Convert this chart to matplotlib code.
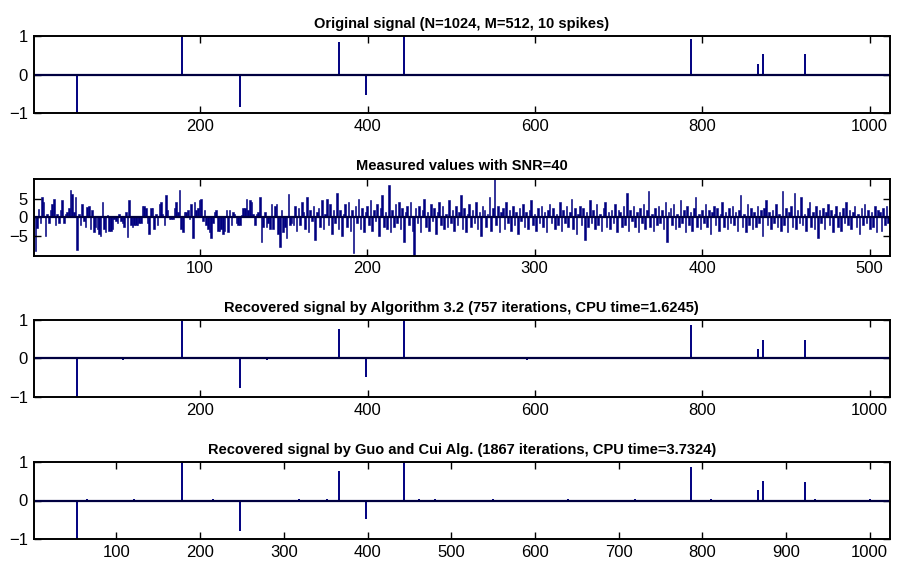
import numpy as np
import matplotlib.pyplot as plt

plt.rcParams['font.family'] = ['Liberation Sans', 'DejaVu Sans']

N = 1024
M = 512

# spikes of the original signal (index, amplitude)
spike_idx = [53, 178, 247, 366, 398, 444, 786, 866, 872, 923]
spike_orig = [-1.0, 1.0, -0.84, 0.85, -0.52, 1.0, 0.93, 0.28, 0.53, 0.53]
spike_alg32 = [-1.0, 0.98, -0.76, 0.76, -0.47, 1.0, 0.86, 0.25, 0.49, 0.48]
spike_guo = [-1.0, 1.0, -0.78, 0.77, -0.48, 1.0, 0.87, 0.26, 0.50, 0.49]

# small residuals in the recovered signals
noise_idx = [10, 37, 65, 90, 108, 121, 140, 160, 200, 215, 232, 260, 280, 300,
             318, 333, 352, 380, 420, 462, 480, 505, 530, 550, 575, 590, 610,
             640, 660, 690, 705, 720, 745, 760, 810, 830, 900, 935, 950, 980,
             1000, 1010]
noise_val = [0.02, -0.02, 0.03, 0.02, -0.03, 0.03, 0.02, -0.02, 0.02, 0.03,
             -0.02, 0.02, -0.03, 0.02, 0.03, -0.02, 0.04, 0.02, -0.02, 0.03,
             0.03, 0.02, -0.02, 0.03, 0.02, -0.03, 0.02, 0.03, 0.02, -0.02,
             0.02, 0.03, -0.02, 0.02, 0.03, -0.02, 0.02, 0.03, 0.02, -0.02,
             0.03, 0.02]

measured = [
    -9.7, -9.0, -2.9, 2.1, -1.5, 5.3, 4.1, -4.9, 1.0, -1.5,
    2.0, 3.5, 5.0, -2.0, 1.0, -1.5, 2.0, 4.7, -1.5, 1.0,
    1.5, 2.5, 7.4, 6.3, 1.5, 5.5, -8.6, 1.0, -2.0, 3.5,
    -1.0, -2.5, 2.8, 3.0, -3.0, 2.0, -4.0, -2.5, -3.0, -4.5,
    -5.0, 4.0, -3.0, -4.0, 0.5, -3.5, -3.5, -3.0, -0.5, -1.0,
    -1.5, 1.0, -1.0, -1.5, -2.5, 1.5, -5.3, 4.5, -2.0, -2.5,
    -2.0, -2.0, -2.0, -1.5, -1.5, 3.0, 3.0, 2.5, -1.5, -4.5,
    2.5, 2.5, -3.0, 1.0, -2.0, 3.5, 4.0, 1.0, -2.0, 6.0,
    2.0, -0.5, -0.5, -0.5, 2.5, 4.0, 1.5, 7.3, -3.0, -4.0,
    1.5, 1.5, 2.0, -0.5, 3.5, -5.5, 4.0, 2.0, 2.5, 4.5,
    4.8, -1.0, 2.0, -2.0, -3.0, -4.0, -5.5, -1.5, 1.5, 2.0,
    -3.5, -3.5, -3.0, -4.5, -3.5, 2.0, -4.0, 2.0, -2.0, 1.5,
    1.0, -1.5, -2.0, -2.0, 0.5, 2.5, 2.5, 5.0, 2.0, 4.5,
    4.0, 1.0, -2.0, 1.0, 1.5, 5.5, -6.5, -2.5, 1.5, -2.5,
    -1.5, -3.0, 3.5, -3.0, 3.0, 3.5, -4.5, -8.0, 2.0, -4.0,
    -2.5, -5.5, 6.2, -2.0, -1.5, -2.0, 3.0, -3.5, 2.5, -2.0,
    4.0, 1.5, -3.0, 5.5, -4.0, 2.0, -1.0, 3.0, -6.0, 1.5,
    2.5, -2.5, 4.5, -3.0, 1.0, 5.0, -2.0, 3.5, -4.5, 2.0,
    -1.5, 6.5, -3.0, 2.0, -5.0, 1.0, 3.5, -2.5, 4.0, -3.5,
    2.0, -9.5, 3.0, -1.5, 5.0, -3.0, 2.5, -4.0, 1.5, 3.0,
    -2.0, 4.5, -3.5, 2.0, -1.0, 3.5, -5.0, 2.5, 6.0, -2.5,
    1.5, -3.0, 8.5, -4.0, 2.0, -2.5, 3.5, -1.5, 4.0, -3.0,
    2.5, -6.5, 1.5, 3.0, -2.0, 4.0, -3.5, -10.2, 2.5, -1.5,
    3.0, -4.0, 2.0, 5.0, -2.5, 1.5, -3.5, 3.5, -1.0, 2.5,
    -4.5, 1.5, 4.0, -2.0, 3.0, -3.0, 1.0, -2.5, 4.5, -1.5,
    2.0, -3.5, 3.0, -2.0, 1.5, 6.0, -3.0, 2.5, -4.0, 1.0,
    3.5, -2.5, 2.0, -1.5, 4.0, -3.0, 1.5, -5.0, 3.0, 2.0,
    -2.5, 1.0, 5.5, -3.5, 2.5, 10.3, -2.0, 3.0, -4.0, 1.5,
    2.5, -3.0, 4.0, -1.5, 2.0, -3.5, 3.0, -2.0, 1.5, -4.5,
    2.5, -1.0, 3.5, -2.5, 1.5, -3.0, 2.0, 4.5, -2.0, 1.0,
    -3.5, 2.5, -1.5, 3.0, -2.5, 1.5, -4.0, 2.0, 3.5, -1.5,
    2.5, -3.0, 1.0, -2.0, 4.0, -3.5, 2.0, -1.5, 3.0, -2.5,
    1.5, 5.0, -3.0, 2.5, -4.5, 1.0, 3.0, -2.0, 2.5, -6.0,
    1.5, -2.5, 4.5, -1.5, 2.0, -3.0, 3.5, -2.0, 1.0, -3.5,
    2.5, 4.0, -2.5, 1.5, -3.0, 2.0, -1.5, 3.5, -4.0, 2.0,
    1.5, -2.5, 3.0, -2.0, 6.5, -3.5, 2.0, -1.0, 3.0, -2.5,
    1.5, -4.0, 2.5, -1.5, 3.5, -3.0, 2.0, 7.0, -2.5, 1.0,
    -3.5, 2.5, -2.0, 3.0, -1.5, 2.0, -3.0, 4.0, -6.5, 1.5,
    2.5, -2.0, 3.5, -3.0, 1.0, -2.5, 4.5, -1.5, 2.0, -4.0,
    3.0, -2.0, 1.5, -3.5, 2.5, 5.5, -2.5, 1.0, -3.0, 2.0,
    -1.5, 3.5, -2.5, 2.0, -4.5, 1.5, 3.0, -2.0, 2.5, -3.5,
    1.0, 4.0, -2.5, 1.5, -3.0, 2.5, -1.5, 3.0, -2.0, 1.5,
    -3.5, 2.0, 6.0, -2.5, 1.0, -4.0, 3.5, -2.0, 2.5, -3.0,
    1.5, -2.5, 3.0, -1.5, 2.0, -5.0, 2.5, 4.5, -2.0, 1.5,
    -3.0, 2.0, -1.5, 3.5, -2.5, 1.0, -3.5, 7.0, -2.0, 2.5,
    -4.0, 1.5, 3.0, -2.5, 6.5, -3.0, 2.0, -1.5, 5.5, -2.0,
    1.0, -3.5, 2.5, 4.0, -2.5, 1.5, -3.0, 3.0, -5.5, 2.0,
    -1.5, 2.5, -3.0, 1.5, 3.5, -2.0, 2.0, -4.0, 1.0, 3.0,
    -2.5, 1.5, -3.5, 2.5, -1.5, 4.0, -2.0, 2.0, -3.0, 1.5,
    3.0, -2.5, 1.0, -4.5, 2.5, -2.0, 3.5, -1.5, 2.0, -3.0,
    1.5, -2.5, 3.0, -4.0, 2.0, 1.5, -3.5, 2.5, -2.0, 3.0,
    -1.5, -4.5,
]

titles = ['Original signal (N=1024, M=512, 10 spikes)',
          'Measured values with SNR=40',
          'Recovered signal by Algorithm 3.2 (757 iterations, CPU time=1.6245)',
          'Recovered signal by Guo and Cui Alg. (1867 iterations, CPU time=3.7324)']


def sparse(vals):
    s = np.zeros(N)
    s[np.array(spike_idx) - 1] = vals
    return s


orig = sparse(spike_orig)
rec1 = sparse(spike_alg32)
rec2 = sparse(spike_guo)
rec1[np.array(noise_idx) - 1] += np.array(noise_val)
rec2[np.array(noise_idx) - 1] += np.array(noise_val) * 0.9

col = '#000080'
fig = plt.figure(figsize=(8.97, 5.72), dpi=100)
left, width = 0.0375, 0.9545
bottoms = [0.8024, 0.5530, 0.3060, 0.0577]
height = 0.1346

n = np.arange(1, N + 1)
m = np.arange(1, M + 1)
series = [(n, orig), (m, np.array(measured)), (n, rec1), (n, rec2)]
xt = [[200, 400, 600, 800, 1000], [100, 200, 300, 400, 500],
      [200, 400, 600, 800, 1000], list(range(100, 1001, 100))]

for k in range(4):
    ax = fig.add_axes([left, bottoms[k], width, height])
    xs, ys = series[k]
    if k == 1:
        ax.bar(xs, ys, width=0.95, color=col, edgecolor=col, linewidth=0.4)
    else:
        ax.vlines(xs, 0, ys, color=col, lw=1.4)
    ax.axhline(0, color='#000040', lw=1.6, zorder=3)
    ax.set_xlim(1, len(xs))
    if k == 1:
        ax.set_ylim(min(measured), max(measured))
        ax.set_yticks([-5, 0, 5])
        ax.set_yticklabels(['\u22125', '0', '5'])
    else:
        ax.set_ylim(-1, 1)
        ax.set_yticks([-1, 0, 1])
        ax.set_yticklabels(['\u22121', '0', '1'])
    ax.set_xticks(xt[k])
    ax.tick_params(direction='in', length=5, width=1, labelsize=12,
                   top=True, right=True, pad=4)
    for sp in ax.spines.values():
        sp.set_linewidth(1.4)
        sp.set_zorder(4)
    ax.set_title(titles[k], fontsize=10.5, fontweight='bold', pad=6)

fig.savefig('out.png', dpi=100)
